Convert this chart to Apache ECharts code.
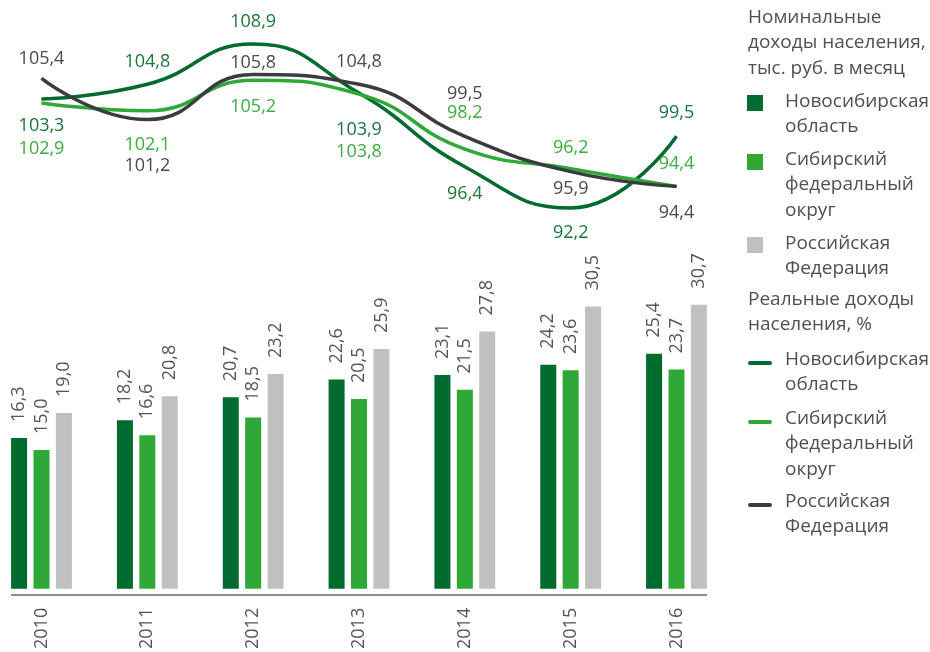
<!DOCTYPE html>
<html>
<head>
<meta charset="utf-8">
<script src="https://cdn.jsdelivr.net/npm/echarts@6/dist/echarts.min.js"></script>
<style>
  html, body { margin: 0; padding: 0; background: #fff; }
  #chart { width: 930px; height: 652px; }
</style>
</head>
<body>
<div id="chart"></div>
<script>
  // годы
  var years = ['2010', '2011', '2012', '2013', '2014', '2015', '2016']
  // номинальные доходы, тыс. руб. в месяц
  var nomNso = [16.3, 18.2, 20.7, 22.6, 23.1, 24.2, 25.4]
  var nomSfo = [15.0, 16.6, 18.5, 20.5, 21.5, 23.6, 23.7]
  var nomRf = [19.0, 20.8, 23.2, 25.9, 27.8, 30.5, 30.7]
  // реальные доходы, %
  var realNso = [103.3, 104.8, 108.9, 103.9, 96.4, 92.2, 99.5]
  var realSfo = [102.9, 102.1, 105.2, 103.8, 98.2, 96.2, 94.4]
  var realRf = [105.4, 101.2, 105.8, 104.8, 99.5, 95.9, 94.4]

  // сдвиг подписей линий по вертикали (чтобы не налезали)
  var offNso = [27, -22, -22, 37, 27, 25, -23]
  var offSfo = [46, 34, 27, 58, -36, -21, -23]
  var offRf = [-19, 46, -12, -22, -42, 17, 26]

  var cDark = '#006b2f'
  var cGreen = '#2fa838'
  var cGrey = '#bfc0bf'
  var cLine = '#3b3b42'
  var font = "'Open Sans', 'Noto Sans', sans-serif"

  var fmt = function (v) { return String(v.toFixed(1)).replace('.', ',') }

  function lineData (vals, offs, color) {
    return vals.map(function (v, i) {
      return {
        value: v,
        label: { offset: [0, offs[i]], color: color }
      }
    })
  }

  function lineSeries (name, vals, offs, color, labelColor) {
    return {
      name: name,
      type: 'line',
      xAxisIndex: 0,
      yAxisIndex: 0,
      smooth: 0.5,
      symbol: 'circle',
      symbolSize: 1,
      itemStyle: { color: color },
      lineStyle: { color: color, width: 3.5 },
      label: {
        show: true,
        position: 'inside',
        fontFamily: font,
        fontSize: 18,
        formatter: function (p) { return fmt(p.value) }
      },
      data: lineData(vals, offs, labelColor),
      z: 3
    }
  }

  function barSeries (name, vals, color) {
    return {
      name: name,
      type: 'bar',
      xAxisIndex: 1,
      yAxisIndex: 1,
      barWidth: 16,
      barGap: '40%',
      itemStyle: { color: color },
      label: {
        show: true,
        position: 'top',
        rotate: 90,
        align: 'left',
        verticalAlign: 'middle',
        distance: 16,
        fontFamily: font,
        fontSize: 18,
        color: '#555',
        formatter: function (p) { return fmt(p.value) }
      },
      data: vals
    }
  }

  function legendText (x, y, lines) {
    return lines.map(function (t, i) {
      return {
        type: 'text',
        left: x,
        top: y + i * 25.5,
        style: { text: t, fontFamily: font, fontSize: 19, fill: '#505050', verticalAlign: 'middle' }
      }
    })
  }

  var graphics = []
  graphics = graphics.concat(legendText(748, 8, ['Номинальные', 'доходы населения,', 'тыс. руб. в месяц']))
  graphics.push({ type: 'rect', shape: { x: 747, y: 95, width: 16, height: 16 }, style: { fill: cDark } })
  graphics = graphics.concat(legendText(785, 92, ['Новосибирская', 'область']))
  graphics.push({ type: 'rect', shape: { x: 747, y: 154, width: 16, height: 16 }, style: { fill: cGreen } })
  graphics = graphics.concat(legendText(785, 150, ['Сибирский', 'федеральный', 'округ']))
  graphics.push({ type: 'rect', shape: { x: 747, y: 237, width: 16, height: 16 }, style: { fill: cGrey } })
  graphics = graphics.concat(legendText(785, 234, ['Российская', 'Федерация']))
  graphics = graphics.concat(legendText(748, 290, ['Реальные доходы', 'населения, %']))
  graphics.push({ type: 'line', shape: { x1: 750, y1: 363, x2: 770, y2: 363 }, style: { stroke: cDark, lineWidth: 4, lineCap: 'round' } })
  graphics = graphics.concat(legendText(785, 350, ['Новосибирская', 'область']))
  graphics.push({ type: 'line', shape: { x1: 750, y1: 422, x2: 770, y2: 422 }, style: { stroke: cGreen, lineWidth: 4, lineCap: 'round' } })
  graphics = graphics.concat(legendText(785, 409, ['Сибирский', 'федеральный', 'округ']))
  graphics.push({ type: 'line', shape: { x1: 750, y1: 505, x2: 770, y2: 505 }, style: { stroke: cLine, lineWidth: 4, lineCap: 'round' } })
  graphics = graphics.concat(legendText(785, 492, ['Российская', 'Федерация']))
  // линия оси под столбцами
  graphics.push({ type: 'line', z: 10, shape: { x1: 11, y1: 595, x2: 707, y2: 595 }, style: { stroke: '#8e8e8e', lineWidth: 2 } })

  var myChart = echarts.init(document.getElementById('chart'))
  var option = {
    animation: false,
    backgroundColor: '#fff',
    grid: [
      { left: 41.5, right: 253.5, top: 33.2, height: 196.4 },
      { left: 41.5, right: 253.5, top: 292.6, height: 302.4 }
    ],
    xAxis: [
      {
        gridIndex: 0,
        type: 'category',
        boundaryGap: false,
        data: years,
        show: false
      },
      {
        gridIndex: 1,
        type: 'category',
        boundaryGap: false,
        data: years,
        axisLine: { show: false },
        axisTick: { show: false },
        splitLine: { show: false },
        axisLabel: {
          rotate: 90,
          margin: 19,
          fontFamily: font,
          fontSize: 18,
          color: '#555'
        }
      }
    ],
    yAxis: [
      { gridIndex: 0, type: 'value', min: 90, max: 110, show: false },
      { gridIndex: 1, type: 'value', min: 0, max: 32, show: false }
    ],
    graphic: graphics,
    series: [
      barSeries('Новосибирская область', nomNso, cDark),
      barSeries('Сибирский федеральный округ', nomSfo, cGreen),
      barSeries('Российская Федерация', nomRf, cGrey),
      lineSeries('Новосибирская область', realNso, offNso, cDark, '#18773c'),
      lineSeries('Сибирский федеральный округ', realSfo, offSfo, cGreen, '#3aae42'),
      lineSeries('Российская Федерация', realRf, offRf, cLine, '#4a4a4a')
    ]
  }
  myChart.setOption(option)
</script>
</body>
</html>
